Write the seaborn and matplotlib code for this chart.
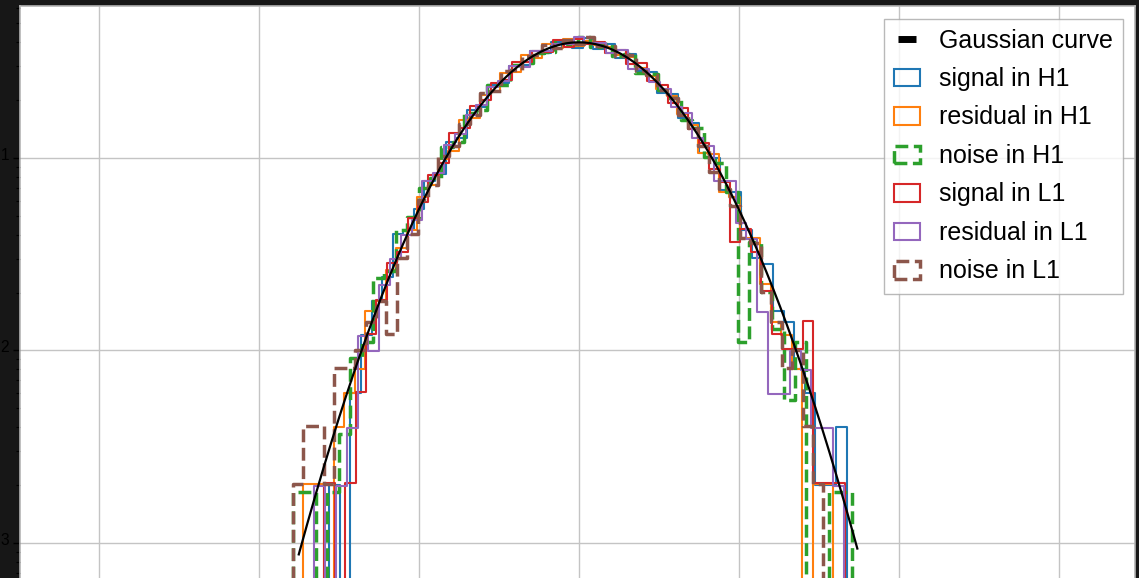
import numpy as np
import pandas as pd
import matplotlib
matplotlib.use("Agg")
import matplotlib.pyplot as plt
import seaborn as sns
from matplotlib.lines import Line2D
from matplotlib.patches import Patch
from matplotlib.ticker import MultipleLocator, LogLocator

# ---------------- data ----------------
series_labels = ["signal in H1", "residual in H1", "noise in H1",
                 "signal in L1", "residual in L1", "noise in L1"]
series_colors = ["#1f77b4", "#ff7f0e", "#2ca02c", "#d62728", "#9467bd", "#8c564b"]
series_dashed = [False, False, True, False, False, True]

# histogram ranges (lowest edge, highest edge) and per-bin counts
signal_h1_range = (-3.25, 3.482)
signal_h1_counts = [0, 1, 0, 3, 6, 9, 12, 20, 21, 27,
                    38, 41, 60, 63, 88, 92, 119, 122, 150, 151,
                    180, 176, 199, 188, 185, 210, 183, 196, 165, 173,
                    141, 139, 108, 107, 80, 76, 53, 50, 34, 33,
                    21, 15, 14, 8, 7, 4, 3, 1, 1, 2, 0]

residual_h1_range = (-3.58, 3.31)
residual_h1_counts = [0, 1, 1, 0, 2, 3, 4, 8, 9, 13,
                      17, 21, 31, 36, 49, 54, 78, 80, 106, 111,
                      138, 139, 170, 165, 194, 184, 206, 190, 201, 192,
                      188, 171, 166, 146, 133, 113, 104, 84, 74, 53,
                      52, 33, 31, 19, 19, 11, 7, 6, 4, 0, 1, 1, 0]

noise_h1_range = (-3.7125, 3.555)
noise_h1_counts = [0, 1, 1, 0, 1, 2, 5, 6, 13, 14,
                   23, 27, 38, 43, 62, 66, 93, 97, 130, 130,
                   165, 170, 192, 193, 220, 212, 232, 204, 212, 184,
                   188, 150, 148, 122, 111, 86, 78, 55, 51, 36,
                   6, 20, 11, 7, 3, 6, 0, 0, 1, 1, 0]

signal_l1_range = (-3.31, 3.45)
signal_l1_counts = [0, 1, 0, 1, 3, 6, 9, 14, 16, 24,
                    29, 40, 46, 66, 70, 91, 98, 120, 125, 154,
                    155, 177, 175, 200, 184, 203, 191, 196, 173, 178,
                    151, 152, 123, 118, 95, 89, 69, 59, 43, 37,
                    18, 21, 16, 10, 6, 5, 5, 7, 1, 1, 1, 0]

residual_l1_range = (-3.44, 3.445)
residual_l1_counts = [0, 1, 0, 1, 2, 6, 5, 11, 15, 20,
                      24, 38, 42, 59, 67, 84, 95, 118, 127, 152,
                      150, 181, 180, 197, 197, 215, 199, 200, 176, 184,
                      146, 146, 125, 115, 92, 86, 64, 58, 38, 38,
                      23, 19, 8, 3, 3, 5, 4, 2, 2, 1, 0]

noise_l1_range = (-3.705, 3.185)
noise_l1_counts = [0, 1, 2, 2, 1, 4, 4, 5, 7, 9,
                   6, 15, 20, 30, 36, 51, 57, 74, 83, 108,
                   110, 140, 142, 167, 169, 191, 185, 204, 193, 210,
                   189, 189, 168, 169, 141, 134, 112, 102, 83, 71,
                   57, 42, 34, 28, 19, 18, 10, 7, 4, 5, 2, 1, 0]

series_ranges = [signal_h1_range, residual_h1_range, noise_h1_range,
                 signal_l1_range, residual_l1_range, noise_l1_range]
series_counts = [signal_h1_counts, residual_h1_counts, noise_h1_counts,
                 signal_l1_counts, residual_l1_counts, noise_l1_counts]

# reference Gaussian curve parameters
gauss_label = "Gaussian curve"
gauss_mu = 0.0
gauss_sigma = 1.0
gauss_span = (-3.5, 3.48)

# axis limits (the figure is a tight crop of a larger plot)
x_limits = (-6.99, 6.95)
y_limits = (10 ** -3.8156, 10 ** -0.2104)

# ---------------- drawing ----------------
plt.rcParams["font.family"] = ["Liberation Sans", "DejaVu Sans"]

W, H = 1139, 578
fig = plt.figure(figsize=(W / 100, H / 100), dpi=100, facecolor="#171717")
ax = fig.add_axes([19.5 / W, 1 - 700 / H, (1135 - 19.5) / W, 694 / H])
ax.set_facecolor("white")

for lab, col, dashed, rng, cnt in zip(series_labels, series_colors, series_dashed,
                                      series_ranges, series_counts):
    edges = np.linspace(rng[0], rng[1], len(cnt) + 1).tolist()
    centers = [0.5 * (a + b) for a, b in zip(edges[:-1], edges[1:])]
    df = pd.DataFrame({"value": centers, "count": cnt})
    sns.histplot(data=df, x="value", weights="count", bins=edges, stat="density",
                 element="step", fill=False, color=col,
                 linewidth=2.5 if dashed else 1.5,
                 linestyle="--" if dashed else "-", ax=ax, zorder=3)

gx = np.linspace(gauss_span[0], gauss_span[1], 400)
gy = np.exp(-0.5 * ((gx - gauss_mu) / gauss_sigma) ** 2) / (gauss_sigma * np.sqrt(2 * np.pi))
sns.lineplot(x=gx, y=gy, color="black", linewidth=1.6, estimator=None, sort=False,
             ax=ax, zorder=5)

ax.set_yscale("log", nonpositive="clip")
ax.set_xlim(*x_limits)
ax.set_ylim(*y_limits)
ax.set_xlabel("")
ax.set_ylabel("")

ax.xaxis.set_major_locator(MultipleLocator(2))
ax.yaxis.set_major_locator(LogLocator(base=10))
ax.yaxis.set_minor_locator(LogLocator(base=10, subs=np.arange(2, 10)))
ax.grid(True, which="major", color="#c4c4c4", linewidth=1.0)
ax.grid(False, which="minor")
ax.set_axisbelow(True)

ax.tick_params(axis="y", which="major", direction="out", length=5, width=1,
               color="black", labelsize=16, labelcolor="black", pad=2)
ax.tick_params(axis="y", which="minor", direction="out", length=3, width=0.8,
               color="black")
ax.tick_params(axis="x", labelbottom=False, bottom=False)
for sp in ax.spines.values():
    sp.set_color("#b4b4b4")
    sp.set_linewidth(1.2)

handles = [Line2D([], [], color="black", marker="_", markersize=13,
                  markeredgewidth=5, linestyle="none", label=gauss_label)]
for lab, col, dashed in zip(series_labels, series_colors, series_dashed):
    handles.append(Patch(facecolor="none", edgecolor=col,
                         linestyle="--" if dashed else "-",
                         linewidth=2.5 if dashed else 1.5, label=lab))
leg = ax.legend(handles=handles, loc="upper right", fontsize=18,
                handlelength=1.05, handleheight=0.7, handletextpad=0.75,
                labelspacing=0.58,
                framealpha=0.8, fancybox=False, edgecolor="#a8a8a8",
                borderaxespad=0.5)
leg.get_frame().set_linewidth(1.0)
leg.set_zorder(10)

fig.savefig("out.png", dpi=100, facecolor=fig.get_facecolor())
